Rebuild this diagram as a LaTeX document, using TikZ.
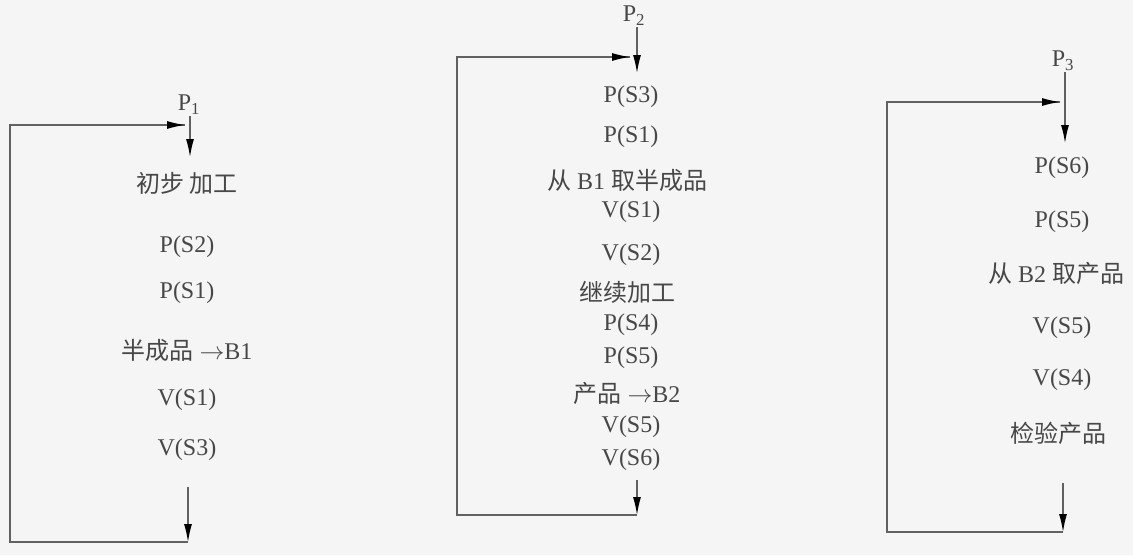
\documentclass[tikz,border=0pt]{standalone}
\usepackage{fontspec}
\setmainfont{Liberation Serif}
\newfontfamily\cjk{Noto Sans CJK SC}
\usetikzlibrary{arrows.meta}
\tikzset{
  stmt/.style={font=\fontsize{24}{26}\selectfont, text=black!72, inner sep=1pt},
  flow/.style={line width=1.3pt, draw=black!62},
  into/.style={flow, -{Latex[length=18pt,width=8pt,black]}},
}
\begin{document}
\begin{tikzpicture}[x=1pt,y=-1pt]
  \fill [black!4] (0,0) rectangle (1133,555);

  \node [stmt] (p1) at (189,105) {P\textsubscript{1}};
  \node [stmt] (a1) at (187,183) {\cjk 初步 加工};
  \node [stmt] (a2) at (187,247) {P(S2)};
  \node [stmt] (a3) at (187,293) {P(S1)};
  \node [stmt] (a4) at (187,350) {{\cjk 半成品} $\rightarrow$B1};
  \node [stmt] (a5) at (187,400) {V(S1)};
  \node [stmt] (a6) at (187,450) {V(S3)};
  \coordinate (in1) at (190,157);
  \coordinate (j1) at (185,125);
  \coordinate (out1) at (188,487);
  \coordinate (b1) at (188,542);
  \coordinate (l1) at (10,542);
  \draw [into] (p1.south -| in1) -- (in1);
  \draw [into] (out1) -- (b1);
  \draw [flow] (b1) -- (l1) |- (j1);
  \draw [into] (l1 |- j1) -- (j1);

  \node [stmt] (p2) at (634,16) {P\textsubscript{2}};
  \node [stmt] (c1) at (631,97) {P(S3)};
  \node [stmt] (c2) at (631,137) {P(S1)};
  \node [stmt] (c3) at (627,180) {{\cjk 从} B1 {\cjk 取半成品}};
  \node [stmt] (c4) at (631,212) {V(S1)};
  \node [stmt] (c5) at (631,255) {V(S2)};
  \node [stmt] (c6) at (627,292) {\cjk 继续加工};
  \node [stmt] (c7) at (631,325) {P(S4)};
  \node [stmt] (c8) at (631,358) {P(S5)};
  \node [stmt] (c9) at (627,393) {{\cjk 产品} $\rightarrow$B2};
  \node [stmt] (c10) at (631,427) {V(S5)};
  \node [stmt] (c11) at (631,460) {V(S6)};
  \coordinate (in2) at (637,73);
  \coordinate (j2) at (630,57);
  \coordinate (out2) at (637,480);
  \coordinate (b2) at (637,515);
  \coordinate (l2) at (457,515);
  \draw [into] (p2.south -| in2) -- (in2);
  \draw [into] (out2) -- (b2);
  \draw [flow] (b2) -- (l2) |- (j2);
  \draw [into] (l2 |- j2) -- (j2);

  \node [stmt] (p3) at (1063,61) {P\textsubscript{3}};
  \node [stmt] (d1) at (1062,168) {P(S6)};
  \node [stmt] (d2) at (1062,222) {P(S5)};
  \node [stmt] (d3) at (1056,273) {{\cjk 从} B2 {\cjk 取产品}};
  \node [stmt] (d4) at (1062,328) {V(S5)};
  \node [stmt] (d5) at (1062,380) {V(S4)};
  \node [stmt] (d6) at (1058,433) {\cjk 检验产品};
  \coordinate (in3) at (1065,143);
  \coordinate (j3) at (1060,102);
  \coordinate (out3) at (1063,483);
  \coordinate (b3) at (1063,532);
  \coordinate (l3) at (887,532);
  \draw [into] (p3.south -| in3) -- (in3);
  \draw [into] (out3) -- (b3);
  \draw [flow] (b3) -- (l3) |- (j3);
  \draw [into] (l3 |- j3) -- (j3);
\end{tikzpicture}
\end{document}
